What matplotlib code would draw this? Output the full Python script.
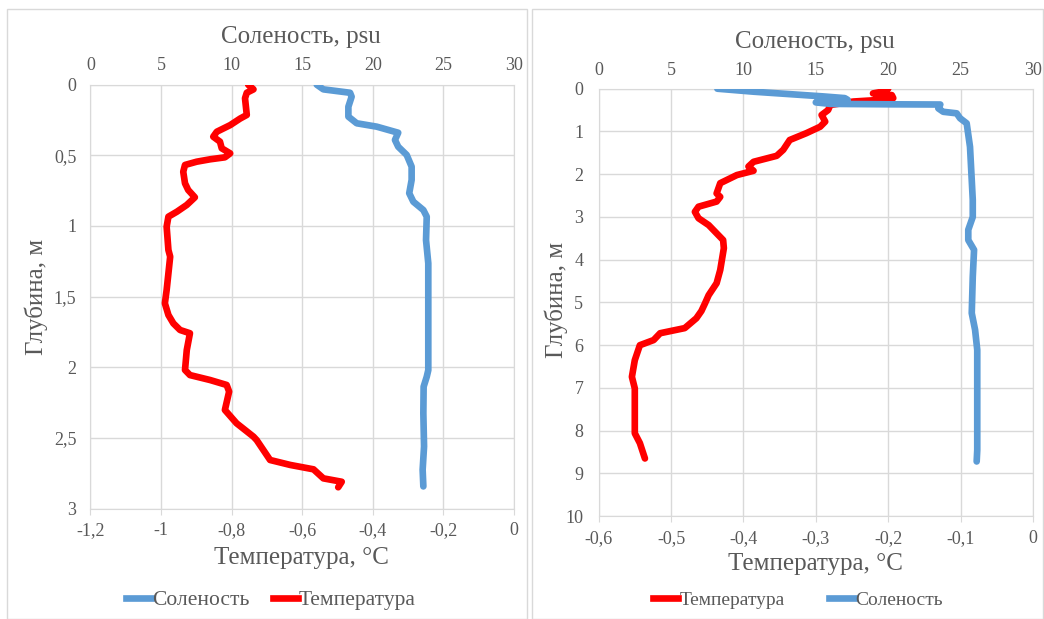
import matplotlib
matplotlib.use("Agg")
import matplotlib.pyplot as plt
from matplotlib.ticker import FuncFormatter, MultipleLocator
from matplotlib.patches import Rectangle
from matplotlib.lines import Line2D

# ---- Station 1 (shallow) ----
st1_temp_depth = [0, 0.033, 0.057, 0.096, 0.214, 0.24, 0.286, 0.333, 0.368, 0.403, 0.45,
                  0.486, 0.514, 0.528, 0.545, 0.568, 0.616, 0.698, 0.745, 0.797, 0.851,
                  0.899, 0.934, 1.005, 1.17, 1.217, 1.335, 1.453, 1.547, 1.63, 1.689,
                  1.736, 1.759, 1.878, 2.019, 2.055, 2.09, 2.125, 2.172, 2.302, 2.396,
                  2.491, 2.515, 2.656, 2.691, 2.722, 2.786, 2.81, 2.849]
st1_temp = [-0.753, -0.738, -0.757, -0.762, -0.757, -0.776, -0.804, -0.842, -0.852, -0.833,
            -0.828, -0.804, -0.819, -0.861, -0.899, -0.932, -0.937, -0.932, -0.923, -0.904,
            -0.927, -0.955, -0.979, -0.984, -0.979, -0.974, -0.979, -0.984, -0.989, -0.979,
            -0.965, -0.946, -0.918, -0.927, -0.932, -0.918, -0.861, -0.814, -0.807, -0.819,
            -0.786, -0.738, -0.729, -0.691, -0.634, -0.568, -0.54, -0.488, -0.498]
st1_sal_depth = [0, 0.033, 0.057, 0.085, 0.156, 0.226, 0.273, 0.297, 0.34, 0.391, 0.439,
                 0.497, 0.58, 0.674, 0.768, 0.828, 0.887, 0.934, 1.1, 1.264, 1.5, 2.02,
                 2.067, 2.137, 2.325, 2.56, 2.725, 2.843]
st1_sal = [16.03, 16.5, 18.39, 18.5, 18.27, 18.27, 18.86, 20.28, 21.8, 21.57, 21.8,
           22.4, 22.75, 22.75, 22.58, 22.87, 23.58, 23.82, 23.77, 23.93, 23.93, 23.93,
           23.82, 23.6, 23.58, 23.63, 23.53, 23.58]

# ---- Station 2 (deep) ----
st2_temp_depth = [0.0, 0.014, 0.06, 0.11, 0.15, 0.22, 0.25, 0.30, 0.38, 0.5, 0.615, 0.77,
                  0.89, 1.04, 1.2, 1.43, 1.57, 1.71, 1.82, 1.92, 2.02, 2.21, 2.45, 2.53,
                  2.64, 2.76, 2.88, 3.03, 3.19, 3.54, 3.73, 4.24, 4.55, 4.83, 5.02, 5.2,
                  5.37, 5.6, 5.72, 5.88, 6.0, 6.35, 6.74, 7.01, 8.06, 8.29, 8.65]
st2_temp = [-0.2, -0.202, -0.205, -0.221, -0.195, -0.193, -0.2, -0.248, -0.28, -0.283,
            -0.292, -0.287, -0.294, -0.313, -0.336, -0.345, -0.354, -0.386, -0.393, -0.386,
            -0.409, -0.432, -0.437, -0.432, -0.437, -0.462, -0.467, -0.462, -0.448, -0.428,
            -0.427, -0.432, -0.437, -0.448, -0.453, -0.458, -0.465, -0.481, -0.515, -0.524,
            -0.543, -0.55, -0.554, -0.55, -0.55, -0.543, -0.536]
st2_sal_depth = [0.0, 0.07, 0.125, 0.18, 0.22, 0.26, 0.28, 0.32, 0.355, 0.365, 0.37, 0.46,
                 0.54, 0.576, 0.69, 0.81, 1.36, 2.14, 2.6, 3.0, 3.3, 3.54, 3.77, 4.4, 5.25,
                 5.64, 6.11, 7.5, 8.45, 8.72]
st2_sal = [8.2, 10.7, 13.1, 15.5, 17.0, 17.2, 15.2, 15.0, 16.0, 20.0, 23.6, 23.46, 23.8,
           24.73, 24.96, 25.42, 25.65, 25.77, 25.84, 25.84, 25.53, 25.53, 25.93, 25.84,
           25.77, 26.0, 26.15, 26.15, 26.15, 26.11]

LBL_SAL = "Соленость"
LBL_TEMP = "Температура"
TITLE_SAL = "Соленость, psu"
TITLE_TEMP = "Температура, °C"
TITLE_DEPTH = "Глубина, м"

RED = "#FF0000"
BLUE = "#5B9BD5"
GRID = "#D9D9D9"
TXT = "#595959"
FONT = ["Liberation Serif", "DejaVu Serif"]
TICK_FS = 13
LW = 4.8

plt.rcParams["font.family"] = FONT

W, H = 1044, 619
fig = plt.figure(figsize=(W / 100, H / 100), dpi=100)


def px(x0, y0, x1, y1):
    return [x0 / W, 1 - y1 / H, (x1 - x0) / W, (y1 - y0) / H]


def comma(v, _pos=None):
    if abs(v) < 1e-9:
        return "0"
    return f"{v:g}".replace(".", ",")


# chart area frames
for (x0, x1) in [(7, 527), (532, 1043)]:
    fig.patches.append(Rectangle((x0 / W, 0), (x1 - x0) / W, 1 - 9 / H,
                                 transform=fig.transFigure, fill=False,
                                 edgecolor=GRID, lw=1.0))


def make_panel(rect, tlim, tstep, dmax, dstep, series, ypad, toppad, botpad):
    ax = fig.add_axes(rect)
    ax.set_xlim(*tlim)
    ax.set_ylim(dmax, 0)
    ax.xaxis.set_major_locator(MultipleLocator(tstep))
    ax.yaxis.set_major_locator(MultipleLocator(dstep))
    ax.xaxis.set_major_formatter(FuncFormatter(comma))
    ax.yaxis.set_major_formatter(FuncFormatter(comma))
    ax.grid(True, color=GRID, lw=1.0)
    ax.set_axisbelow(True)
    for s in ax.spines.values():
        s.set_color(GRID)
    ax.tick_params(axis="x", colors=GRID, labelcolor=TXT, labelsize=TICK_FS,
                   length=4, direction="out", pad=botpad)
    ax.tick_params(axis="y", length=0, labelcolor=TXT, labelsize=TICK_FS, pad=ypad)

    ax2 = ax.twiny()
    ax2.set_xlim(0, 30)
    ax2.xaxis.set_major_locator(MultipleLocator(5))
    ax2.xaxis.set_major_formatter(FuncFormatter(comma))
    ax2.tick_params(axis="x", length=0, labelcolor=TXT, labelsize=TICK_FS, pad=toppad)
    for s in ax2.spines.values():
        s.set_visible(False)

    for kind, depth, vals in series:
        if kind == "T":
            ax.plot(vals, depth, color=RED, lw=LW, solid_capstyle="round",
                    solid_joinstyle="round", zorder=3)
        else:
            ax2.plot(vals, depth, color=BLUE, lw=LW, solid_capstyle="round",
                     solid_joinstyle="round", zorder=3)
    ax2.set_ylim(dmax, 0)
    return ax, ax2


# left chart
axL, axL2 = make_panel(px(90.4, 84.7, 514, 508.6), (-1.2, 0), 0.2, 3, 0.5,
                       [("S", st1_sal_depth, st1_sal), ("T", st1_temp_depth, st1_temp)],
                       ypad=10, toppad=8, botpad=6)
# right chart
axR, axR2 = make_panel(px(598.6, 88.7, 1033, 516.2), (-0.6, 0), 0.1, 10, 1,
                       [("T", st2_temp_depth, st2_temp), ("S", st2_sal_depth, st2_sal)],
                       ypad=11, toppad=7, botpad=6)

title_kw = dict(color=TXT, fontsize=18, ha="center", va="center")
fig.text(301 / W, 1 - 37 / H, TITLE_SAL, **title_kw)
fig.text(301 / W, 1 - 558 / H, TITLE_TEMP, **title_kw)
fig.text(36 / W, 1 - 297 / H, TITLE_DEPTH, rotation=90, **title_kw)
fig.text(815 / W, 1 - 42 / H, TITLE_SAL, **title_kw)
fig.text(815 / W, 1 - 564 / H, TITLE_TEMP, **title_kw)
fig.text(556 / W, 1 - 300 / H, TITLE_DEPTH, rotation=90, **title_kw)

h_sal = Line2D([], [], color=BLUE, lw=LW)
h_temp = Line2D([], [], color=RED, lw=LW)
leg_kw = dict(ncol=2, frameon=False, handletextpad=0.05, loc="center", labelcolor=TXT)
fig.legend([h_sal, h_temp], [LBL_SAL, LBL_TEMP], fontsize=15.5, handlelength=1.15,
           columnspacing=1.1, bbox_to_anchor=(271 / W, 1 - 600 / H), **leg_kw)
fig.legend([h_temp, h_sal], [LBL_TEMP, LBL_SAL], fontsize=14, handlelength=1.3,
           columnspacing=2.3, bbox_to_anchor=(798 / W, 1 - 600 / H), **leg_kw)

fig.savefig("out.png", dpi=100, facecolor="white")
